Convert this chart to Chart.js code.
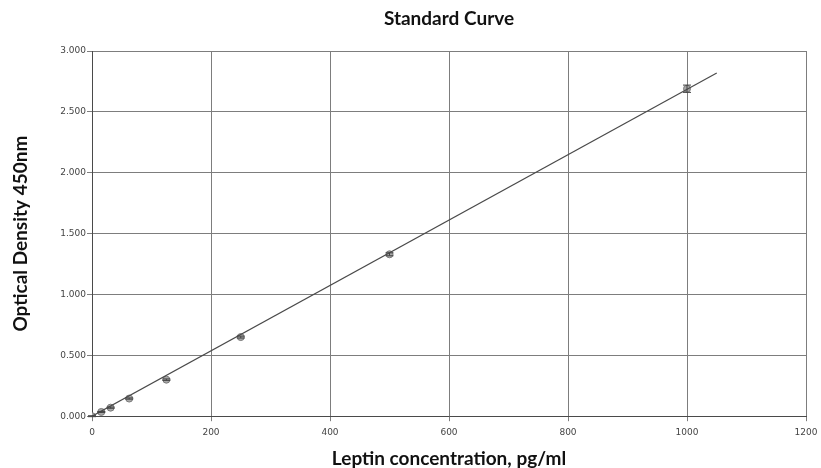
<!DOCTYPE html>
<html>
<head>
<meta charset="utf-8">
<script src="https://cdn.jsdelivr.net/npm/chart.js@4"></script>
<style>
  html, body { margin: 0; padding: 0; background: #fff; }
  #wrap { width: 821px; height: 468px; }
</style>
</head>
<body>
<div id="wrap"><canvas id="curveChart" width="821" height="468"></canvas></div>
<script>
// standards (pg/ml) and measured OD at 450nm
const concentrations = [0, 15.6, 31.25, 62.5, 125, 250, 500, 1000];
const odMeans = [0.0, 0.035, 0.07, 0.145, 0.30, 0.65, 1.33, 2.69];
const odErrors = [0.004, 0.004, 0.005, 0.005, 0.006, 0.008, 0.012, 0.03];

// fitted line end points
const fitX = [0, 1050];
const fitY = [0.0, 2.82];

const xTicks = [0, 200, 400, 600, 800, 1000, 1200];
const yTicks = [0, 0.5, 1.0, 1.5, 2.0, 2.5, 3.0];

const gridColor = '#7d7d7d';
const tickFont = { family: 'DejaVu Sans', size: 9 };
const titleFont = { family: 'Lato', size: 19, weight: 'bold', lineHeight: 1 };

// draws vertical error bars with small caps on the standards dataset
const errorBars = {
  id: 'errorBars',
  afterDatasetsDraw(chart) {
    const ctx = chart.ctx;
    const xs = chart.scales.x;
    const ys = chart.scales.y;
    ctx.save();
    ctx.strokeStyle = '#444';
    ctx.lineWidth = 1;
    concentrations.forEach((c, i) => {
      const px = xs.getPixelForValue(c);
      const top = ys.getPixelForValue(odMeans[i] + odErrors[i]);
      const bot = ys.getPixelForValue(odMeans[i] - odErrors[i]);
      ctx.beginPath();
      ctx.moveTo(px, top); ctx.lineTo(px, bot);
      ctx.moveTo(px - 4, top); ctx.lineTo(px + 4, top);
      ctx.moveTo(px - 4, bot); ctx.lineTo(px + 4, bot);
      ctx.stroke();
    });
    ctx.restore();
  }
};

new Chart(document.getElementById('curveChart'), {
  type: 'scatter',
  data: {
    datasets: [
      {
        type: 'line',
        label: 'Fit',
        data: fitX.map((x, i) => ({ x: x, y: fitY[i] })),
        borderColor: '#4a4a4a',
        borderWidth: 1.2,
        pointRadius: 0,
        fill: false
      },
      {
        label: 'Standards',
        data: concentrations.map((c, i) => ({ x: c, y: odMeans[i] })),
        backgroundColor: '#a8a8a8',
        borderColor: '#7a7a7a',
        borderWidth: 1,
        pointRadius: 3.5
      }
    ]
  },
  options: {
    responsive: false,
    animation: false,
    layout: { padding: { left: 11, right: 15, top: 0, bottom: 0 } },
    plugins: {
      legend: { display: false },
      tooltip: { enabled: false },
      title: {
        display: true,
        fullSize: false,
        text: 'Standard Curve',
        color: '#111',
        font: titleFont,
        padding: { top: 9, bottom: 23 }
      }
    },
    scales: {
      x: {
        type: 'linear',
        min: 0,
        max: 1200,
        afterBuildTicks: axis => { axis.ticks = xTicks.map(v => ({ value: v })); },
        afterFit: axis => { axis.paddingRight = 0; axis.paddingLeft = 0; },
        ticks: { color: '#444', font: tickFont, padding: 6, maxRotation: 0, callback: v => String(v) },
        grid: { color: gridColor, tickLength: 5, tickColor: gridColor },
        border: { color: '#4a4a4a' },
        title: {
          display: true,
          text: 'Leptin concentration, pg/ml',
          color: '#111',
          font: titleFont,
          padding: { top: 5, bottom: 0 }
        }
      },
      y: {
        min: 0,
        max: 3,
        afterBuildTicks: axis => { axis.ticks = yTicks.map(v => ({ value: v })); },
        afterFit: axis => { axis.width = 81; },
        ticks: { color: '#444', font: tickFont, padding: 1, callback: v => v.toFixed(3) },
        grid: { color: gridColor, tickLength: 5, tickColor: gridColor },
        border: { color: '#4a4a4a' },
        title: {
          display: true,
          text: 'Optical Density 450nm',
          color: '#111',
          font: titleFont,
          padding: { top: 0, bottom: 0 }
        }
      }
    }
  },
  plugins: [errorBars]
});
</script>
</body>
</html>
